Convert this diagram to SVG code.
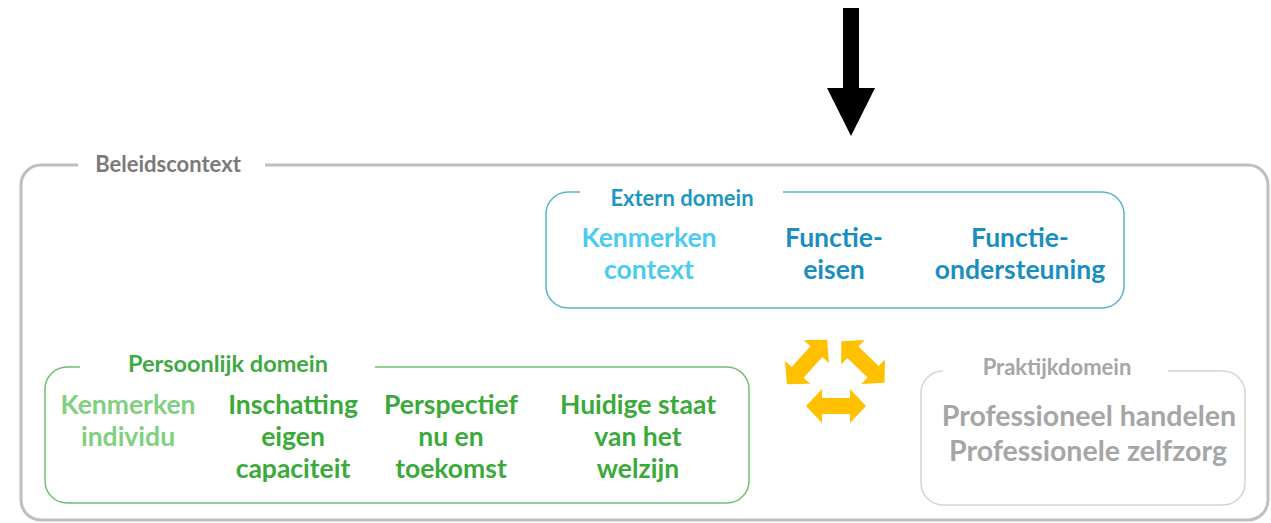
<svg xmlns="http://www.w3.org/2000/svg" width="1271" height="523" viewBox="0 0 1271 523">
<style>
text{font-family:Lato,"Liberation Sans",sans-serif;font-weight:bold;text-anchor:middle}
.frame{fill:none}
.lbl{font-size:22px}
.big{font-size:26.5px}
.pro{font-size:28.5px}
.yel{fill:#FFC000}
</style>
<defs>
<path id="dbl" d="M-30 0 L-14 -17 L-14 -8 L14 -8 L14 -17 L30 0 L14 17 L14 8 L-14 8 L-14 17 Z"/>
</defs>
<rect width="1271" height="523" fill="#fff"/>
<g id="connectors">
<path d="M843 8 H859 V88 H875 L851 136 L827 88 H843 Z" fill="#000"/>
<g id="cycle-arrows" class="yel">
<use href="#dbl" transform="translate(807 362) rotate(-48)"/>
<use href="#dbl" transform="translate(863 362) rotate(44)"/>
<use href="#dbl" transform="translate(836 406)"/>
</g>
</g>
<g id="beleidscontext">
<path class="frame" d="M78 165 H41 A20 20 0 0 0 21 185 V500 A20 20 0 0 0 41 520 H1248 A20 20 0 0 0 1268 500 V185 A20 20 0 0 0 1248 165 H265" stroke="#bfbfbf" stroke-width="3"/>
<text class="lbl" x="168" y="172" fill="#7a7a7a">Beleidscontext</text>
</g>
<g id="extern-domein">
<path class="frame" d="M580 192 H568 A22 22 0 0 0 546 214 V286 A22 22 0 0 0 568 308 H1102 A22 22 0 0 0 1124 286 V214 A22 22 0 0 0 1102 192 H783" stroke="#5ab4cc" stroke-width="1.5"/>
<text class="lbl" x="682" y="206" fill="#1f97c0">Extern domein</text>
<text class="big" x="649" y="247" fill="#4ccbf0">Kenmerken</text>
<text class="big" x="649" y="279" fill="#4ccbf0">context</text>
<text class="big" x="834" y="247" fill="#1a8fbf">Functie-</text>
<text class="big" x="834" y="279" fill="#1a8fbf">eisen</text>
<text class="big" x="1020" y="247" fill="#1a8fbf">Functie-</text>
<text class="big" x="1020" y="279" fill="#1a8fbf">ondersteuning</text>
</g>
<g id="persoonlijk-domein">
<path class="frame" d="M80 367 H67 A22 22 0 0 0 45 389 V481 A22 22 0 0 0 67 503 H727 A22 22 0 0 0 749 481 V389 A22 22 0 0 0 727 367 H375" stroke="#70c070" stroke-width="1.5"/>
<text class="lbl" x="228" y="372" fill="#3faa44" style="font-size:23.5px">Persoonlijk domein</text>
<text class="big" x="128" y="414" fill="#80d080">Kenmerken</text>
<text class="big" x="128" y="446" fill="#80d080">individu</text>
<text class="big" x="293" y="414" fill="#3aaa3a">Inschatting</text>
<text class="big" x="293" y="446" fill="#3aaa3a">eigen</text>
<text class="big" x="293" y="478" fill="#3aaa3a">capaciteit</text>
<text class="big" x="451" y="414" fill="#3aaa3a">Perspectief</text>
<text class="big" x="451" y="446" fill="#3aaa3a">nu en</text>
<text class="big" x="451" y="478" fill="#3aaa3a">toekomst</text>
<text class="big" x="638" y="414" fill="#3aaa3a">Huidige staat</text>
<text class="big" x="638" y="446" fill="#3aaa3a">van het</text>
<text class="big" x="638" y="478" fill="#3aaa3a">welzijn</text>
</g>
<g id="praktijkdomein">
<path class="frame" d="M943 371 H943 A22 22 0 0 0 921 393 V483 A22 22 0 0 0 943 505 H1223 A22 22 0 0 0 1245 483 V393 A22 22 0 0 0 1223 371 H1168" stroke="#d4d4d4" stroke-width="1.5"/>
<text class="lbl" x="1057" y="375" fill="#a6a6a6">Praktijkdomein</text>
<text class="pro" x="1089" y="426" fill="#a6a6a6">Professioneel handelen</text>
<text class="pro" x="1088" y="461" fill="#a6a6a6">Professionele zelfzorg</text>
</g>
</svg>
